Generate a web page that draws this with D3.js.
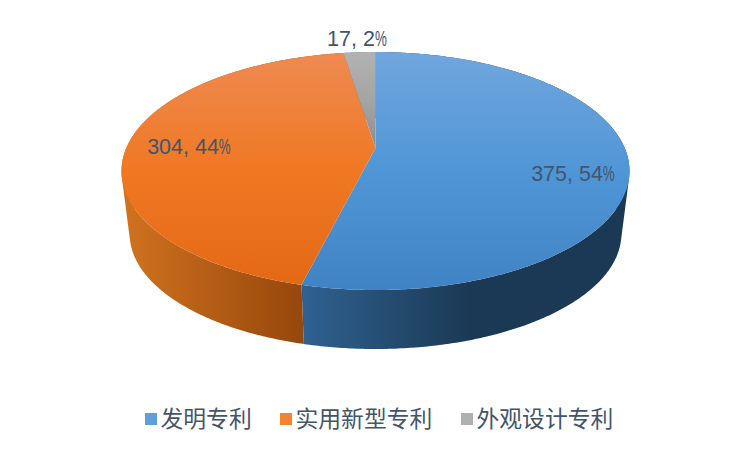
<!DOCTYPE html>
<html>
<head>
<meta charset="utf-8">
<script src="https://cdn.jsdelivr.net/npm/d3@7"></script>
<style>
	html, body { margin: 0; padding: 0; background: #fff; }
	svg { display: block; }
</style>
</head>
<body>
<div id="chart"></div>
<script>
var categories = ['发明专利', '实用新型专利', '外观设计专利'];
var values = [375, 304, 17];
var percents = [54, 44, 2];

var topColors = [['#70a6dd', '#5096d6', '#4083c4'], ['#ee8a52', '#f07823', '#e36815'], ['#b2b2b2', '#a4a4a4', '#8c8c8c']];
var sideColors = [['#2f6190', '#1b3954'], ['#d0721f', '#96470c'], ['#6e6e6e', '#6e6e6e']];
var keyColors = [['#5f9fdc', '#4282c2'], ['#f28434', '#e86c18'], ['#b0b0b0', '#929292']];

var width = 750, height = 450;

// the pie is a tilted disc, so the centre does not sit in the middle of the ellipse
var disc = {cx: 375.5, apexY: 148, topY: 52, bottomY: 290, rx: 254, depth: 59, shrink: 0.968};
var tilt = (disc.topY + disc.bottomY - 2 * disc.apexY) / (disc.bottomY - disc.topY);
var yCoef = disc.topY * (1 + tilt) - disc.apexY;
var xCoef = disc.rx * Math.sqrt(1 - tilt * tilt);
var midY = (disc.topY + disc.bottomY) / 2;
var ry = (disc.bottomY - disc.topY) / 2;

function project(angle) {
	var u = Math.sin(angle), v = Math.cos(angle);
	var w = 1 + tilt * v;
	return [disc.cx + xCoef * u / w, (yCoef * v + disc.apexY) / w];
}

// lower rim: same shape a bit smaller, bottom edge sits depth below the upper one
function projectBottom(angle) {
	var p = project(angle);
	return [
		disc.cx + (p[0] - disc.cx) * disc.shrink,
		midY + disc.depth + ry * (1 - disc.shrink) + (p[1] - midY) * disc.shrink
	];
}

function arcPoints(a0, a1, fn) {
	var n = Math.max(2, Math.ceil((a1 - a0) / 0.01));
	return d3.range(n + 1).map(function(i) {
		return fn(a0 + (a1 - a0) * i / n);
	});
}

var svg = d3.select('#chart').append('svg')
	.attr('width', width)
	.attr('height', height);

var defs = svg.append('defs');

function addGradient(id, stops, horizontal, from, to) {
	var g = defs.append('linearGradient').attr('id', id).attr('gradientUnits', 'userSpaceOnUse');
	if(horizontal) {
		g.attr('x1', from).attr('x2', to).attr('y1', 0).attr('y2', 0);
	} else {
		g.attr('x1', 0).attr('x2', 0).attr('y1', from).attr('y2', to);
	}
	stops.forEach(function(c, i) {
		g.append('stop').attr('offset', i / (stops.length - 1)).attr('stop-color', c);
	});
}

addGradient('top-0', topColors[0], false, 52, 290);
addGradient('top-1', topColors[1], false, 52, 290);
addGradient('top-2', topColors[2], false, 52, 150);
addGradient('side-0', sideColors[0], true, 303, 470);
addGradient('side-1', sideColors[1], true, 125, 303);
addGradient('side-2', sideColors[2], true, 340, 380);

var pie = d3.pie().value(function(d) { return d; }).sort(null);
var slices = pie(values);
var line = d3.line();

// One path of small quads so the wall fills the silhouette between the two rims.
// Every quad gets the same winding, otherwise overlaps cancel out.
function wallPath(d) {
	var upper = arcPoints(d.startAngle, d.endAngle, project);
	var lower = arcPoints(d.startAngle, d.endAngle, projectBottom);
	var out = '';
	for (var i = 0; i < upper.length - 1; i++) {
		var quad = [upper[i], upper[i + 1], lower[i + 1], lower[i]];
		if(d3.polygonArea(quad) < 0) {
			quad.reverse();
		}
		out += line(quad) + 'Z';
	}
	return out;
}

// walls first, the top surface covers whatever is behind it
svg.append('g').attr('class', 'walls')
	.selectAll('path')
	.data(slices)
	.enter()
	.append('path')
	.attr('fill', function(d, i) { return 'url(#side-' + i + ')'; })
	.attr('d', wallPath);

svg.append('g').attr('class', 'tops')
	.selectAll('path')
	.data(slices)
	.enter()
	.append('path')
	.attr('fill', function(d, i) { return 'url(#top-' + i + ')'; })
	.attr('d', function(d) {
		return line([[disc.cx, disc.apexY]].concat(arcPoints(d.startAngle, d.endAngle, project))) + 'Z';
	});

// data labels, the % glyph is narrower than the digits in the original
var labelCenters = [[573, 181], [189, 154], [357, 46]];
var labelFont = 'Liberation Sans, Arial, sans-serif';
var labels = svg.append('g').attr('class', 'labels');

values.forEach(function(v, i) {
	var g = labels.append('g');
	var t = g.append('text')
		.attr('font-family', labelFont)
		.attr('font-size', 21.5)
		.attr('fill', '#44546a')
		.text(v + ', ' + percents[i]);
	var w = t.node().getComputedTextLength();
	var pctW = 12;
	var x0 = labelCenters[i][0] - (w + pctW) / 2;
	t.attr('x', x0).attr('y', labelCenters[i][1]);
	g.append('text')
		.attr('font-family', labelFont)
		.attr('font-size', 21.5)
		.attr('fill', '#44546a')
		.attr('transform', 'translate(' + (x0 + w) + ',' + labelCenters[i][1] + ') scale(0.62,1)')
		.text('%');
});

// legend
var legendX = [145, 280, 461];
var legendY = 413, swatch = 12;
addGradient('key-0', keyColors[0], false, legendY, legendY + swatch);
addGradient('key-1', keyColors[1], false, legendY, legendY + swatch);
addGradient('key-2', keyColors[2], false, legendY, legendY + swatch);

var item = svg.append('g').attr('class', 'legend')
	.selectAll('g')
	.data(categories)
	.enter()
	.append('g')
	.attr('transform', function(d, i) { return 'translate(' + legendX[i] + ',' + legendY + ')'; });

item.append('rect')
	.attr('width', swatch)
	.attr('height', swatch)
	.attr('fill', function(d, i) { return 'url(#key-' + i + ')'; });

item.append('text')
	.attr('x', swatch + 3.5)
	.attr('y', 14)
	.attr('font-family', '"Noto Sans CJK SC", sans-serif')
	.attr('font-size', 22.8)
	.attr('fill', '#44546a')
	.text(function(d) { return d; });
</script>
</body>
</html>
